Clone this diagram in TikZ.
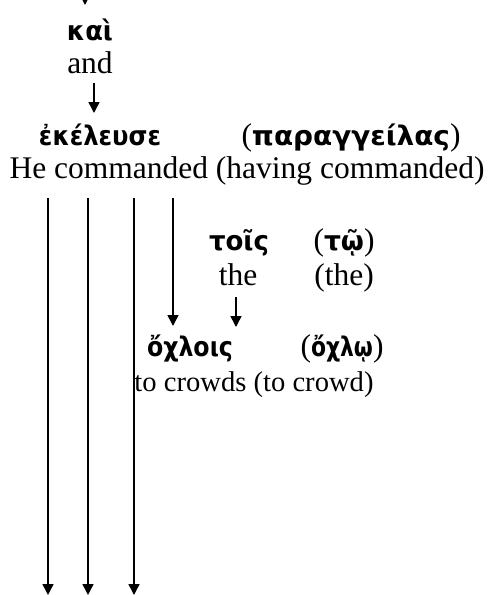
\documentclass[tikz,border=0pt]{standalone}
\usepackage{fontspec}
\usepackage{graphicx}
\setmainfont{Liberation Serif}
\newfontfamily\grk{DejaVu Sans}
\usetikzlibrary{arrows.meta}
\tikzset{
  eng/.style={inner sep=0pt, anchor=base, font=\fontsize{31.5}{38}\selectfont},
  gr/.style={inner sep=0pt, anchor=base, font=\fontsize{31.5}{38}\selectfont},
  arr/.style={line width=1.5pt, -{Triangle[length=11pt,width=11pt]}},
}
\newcommand{\G}[1]{{\grk\bfseries\fontsize{27}{32}\selectfont #1}}
\newcommand{\GR}[2]{\resizebox{#1}{\height}{\G{#2}}}
\begin{document}
\begin{tikzpicture}[x=1pt,y=-1pt]
\useasboundingbox (0,0) rectangle (497,595);
% top
\coordinate (top) at (85,-20);
\coordinate (topend) at (85,5);
\draw[arr] (top) -- (topend);
\node[gr] (kai) at (90,40) {\GR{46pt}{καὶ}};
\node[eng] (and) at (90,73) {and};
\coordinate (a1) at (94,83); \coordinate (a2) at (94,113);
\draw[arr] (a1) -- (a2);
\node[gr] (ek) at (100,145) {\GR{122pt}{ἐκέλευσε}};
\node[gr] (par) at (351,145) {(\GR{198pt}{παραγγείλας})};
\node[eng] (hc) at (247,178) {He commanded (having commanded)};
% vertical lines
\coordinate (v1s) at (48,198); \coordinate (v1e) at (48,595);
\coordinate (v2s) at (88,198); \coordinate (v2e) at (88,595);
\coordinate (v3s) at (134,198); \coordinate (v3e) at (134,595);
\coordinate (v4s) at (173,198); \coordinate (v4e) at (173,326);
\draw[arr] (v1s) -- (v1e);
\draw[arr] (v2s) -- (v2e);
\draw[arr] (v3s) -- (v3e);
\draw[arr] (v4s) -- (v4e);
\node[gr] (tois) at (239,250) {\GR{60pt}{τοῖς}};
\node[gr] (tw) at (344,250) {(\GR{40pt}{τῷ})};
\node[eng] (the) at (238,285) {the};
\node[eng] (the2) at (344,285) {(the)};
\coordinate (t1) at (236,297); \coordinate (t2) at (236,327);
\draw[arr] (t1) -- (t2);
\node[gr] (ox) at (190,356) {\GR{86pt}{ὄχλοις}};
\node[gr] (ox2) at (342,356) {(\GR{62pt}{ὄχλῳ})};
\node[eng, font=\fontsize{28.6}{34}\selectfont] (tc) at (254,391) {to crowds (to crowd)};
\end{tikzpicture}
\end{document}
